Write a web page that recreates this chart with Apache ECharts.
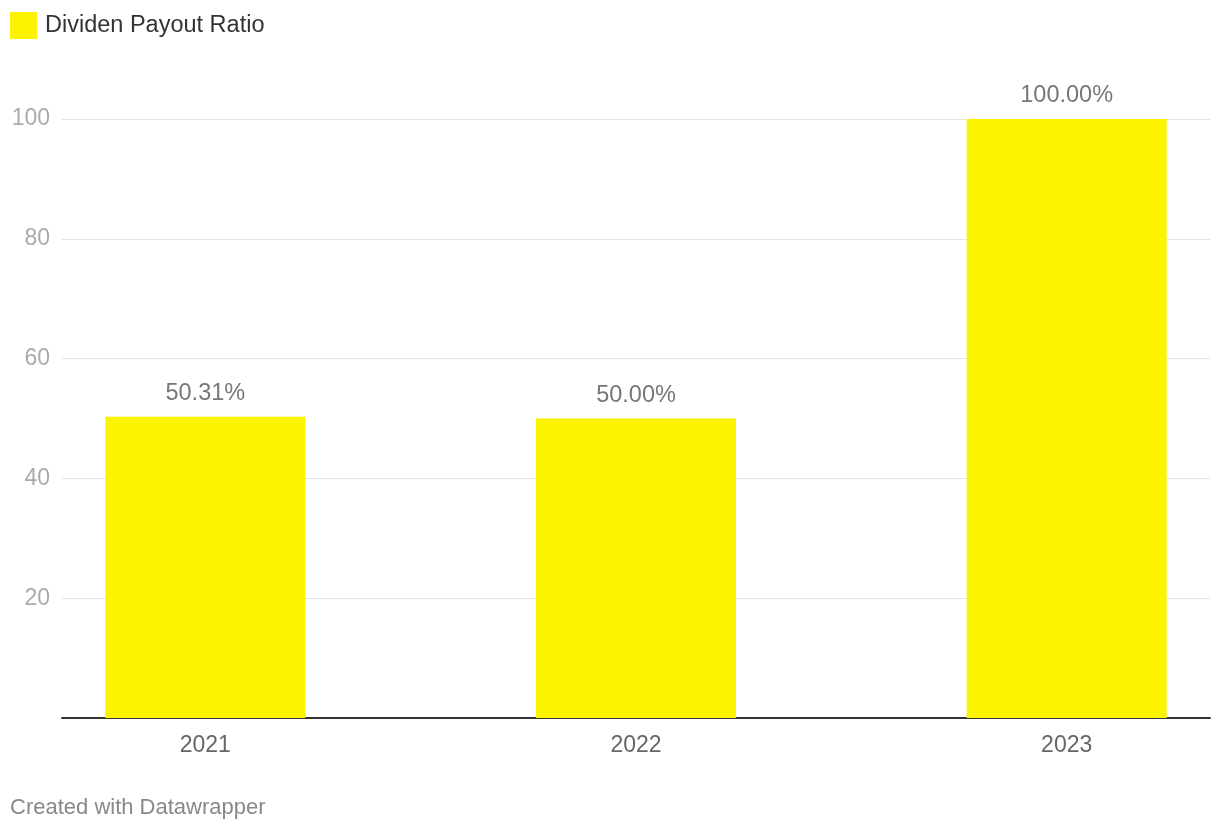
<!DOCTYPE html>
<html><head><meta charset="utf-8">
<script src="https://cdn.jsdelivr.net/npm/echarts@6/dist/echarts.min.js"></script>
<style>html,body{margin:0;padding:0;background:#fff}#c{width:1220px;height:834px}</style>
</head><body><div id="c"></div>
<script>
const categories = ['2021', '2022', '2023'];
const payoutRatio = [50.31, 50.00, 100.00];
const yTicks = [0, 20, 40, 60, 80, 100];
const seriesName = 'Dividen Payout Ratio';

const FONT = '"Liberation Sans", Arial, Helvetica, sans-serif';
const chart = echarts.init(document.getElementById('c'), null, {renderer: 'canvas'});
chart.setOption({
  animation: false,
  backgroundColor: '#ffffff',
  textStyle: {fontFamily: FONT},
  legend: {
    left: 10, top: 12, padding: 0, itemWidth: 27, itemHeight: 27, itemGap: 10,
    icon: 'rect',
    textStyle: {fontSize: 23.5, color: '#333333', fontFamily: FONT, padding: [0, 0, 0, 3]},
    data: [seriesName]
  },
  graphic: [{
    type: 'text', left: 10, top: 797,
    style: {text: 'Created with Datawrapper', fontSize: 22, fill: '#888888', fontFamily: FONT}
  }],
  grid: [
    {left: -10, width: 1292, top: 119, bottom: 116, outerBoundsMode: 'none', containLabel: false},
    {left: 62, right: 10, top: 119, bottom: 116, outerBoundsMode: 'none', containLabel: false}
  ],
  xAxis: [
    {type: 'category', gridIndex: 0, data: categories,
     axisLine: {show: false}, axisTick: {show: false},
     axisLabel: {fontSize: 23, color: '#666666', margin: 16, fontFamily: FONT},
     splitLine: {show: false}},
    {type: 'category', gridIndex: 1, data: categories,
     axisLine: {show: true, lineStyle: {color: '#333333', width: 2}},
     axisTick: {show: false}, axisLabel: {show: false}, splitLine: {show: false}}
  ],
  yAxis: [
    {type: 'value', gridIndex: 0, min: 0, max: 100, interval: 20, show: false,
     splitLine: {show: false}},
    {type: 'value', gridIndex: 1, min: 0, max: 100, interval: 20,
     axisLine: {show: false}, axisTick: {show: false},
     axisLabel: {fontSize: 23, color: '#aaaaaa', margin: 12, fontFamily: FONT,
       formatter: v => (v === 0 ? '' : String(v))},
     splitLine: {show: true, lineStyle: {color: '#e3e3e3', width: 1}}}
  ],
  series: [{
    name: seriesName, type: 'bar', xAxisIndex: 0, yAxisIndex: 0,
    data: payoutRatio, barWidth: 200,
    itemStyle: {color: '#fcf300'},
    label: {show: true, position: 'top', distance: 11, fontSize: 23.5, color: '#777777',
      fontFamily: FONT, formatter: p => p.value.toFixed(2) + '%'}
  }]
});
</script></body></html>
